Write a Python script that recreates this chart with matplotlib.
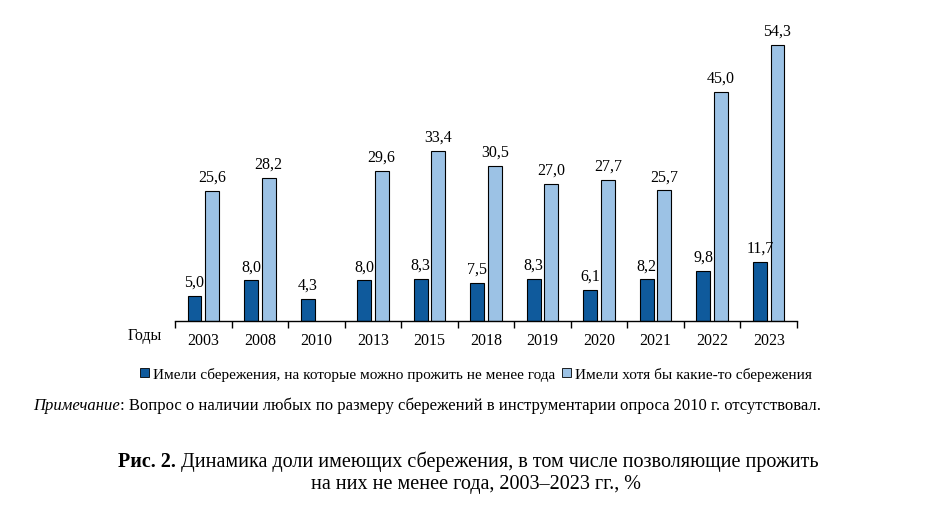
import matplotlib
matplotlib.use("Agg")
import matplotlib.pyplot as plt
from matplotlib.patches import Patch
import numpy as np

plt.rcParams["font.family"] = ["Liberation Serif", "DejaVu Serif"]

years = ["2003", "2008", "2010", "2013", "2015", "2018", "2019", "2020", "2021", "2022", "2023"]
year_savings = [5.0, 8.0, 4.3, 8.0, 8.3, 7.5, 8.3, 6.1, 8.2, 9.8, 11.7]
any_savings = [25.6, 28.2, None, 29.6, 33.4, 30.5, 27.0, 27.7, 25.7, 45.0, 54.3]

label_year = "Имели сбережения, на которые можно прожить не менее года"
label_any = "Имели хотя бы какие-то сбережения"

dark = "#0f5a9c"
light = "#9cc2e5"

fig = plt.figure(figsize=(9.28, 5.06), dpi=100)
ax = fig.add_axes([175 / 928, (506 - 322) / 506, 622 / 928, 302 / 506])

x = np.arange(len(years))
w = 0.245
off = 0.155

def fmt(v):
    return f"{v:.1f}".replace(".", ",")

for i, v in enumerate(year_savings):
    ax.bar(x[i] - off, v, w, color=dark, edgecolor="black", linewidth=0.8)
    ax.text(x[i] - off, v + 1.2, fmt(v), ha="center", va="bottom", fontsize=11.5)
for i, v in enumerate(any_savings):
    if v is None:
        continue
    ax.bar(x[i] + off, v, w, color=light, edgecolor="black", linewidth=0.8)
    ax.text(x[i] + off, v + 1.2, fmt(v), ha="center", va="bottom", fontsize=11.5)

ax.set_xlim(-0.5, len(years) - 0.5)
ax.set_ylim(0, 59.4)
ax.set_yticks([])
for s in ["top", "right", "left"]:
    ax.spines[s].set_visible(False)
ax.spines["bottom"].set_linewidth(1.0)

ax.set_xticks(x)
ax.set_xticklabels(years, fontsize=11.5)
ax.tick_params(axis="x", which="major", length=0, pad=8)
ax.set_xticks(np.arange(len(years) + 1) - 0.5, minor=True)
ax.tick_params(axis="x", which="minor", length=5, width=1.0, direction="out")

fig.text(128 / 928, 1 - 336 / 506, "Годы", fontsize=11.5, va="center")

handles = [Patch(facecolor=dark, edgecolor="black", linewidth=0.6),
           Patch(facecolor=light, edgecolor="black", linewidth=0.6)]
fig.legend(handles, [label_year, label_any], loc="center", bbox_to_anchor=(476 / 928, 1 - 375 / 506),
           ncol=2, frameon=False, fontsize=11, handlelength=0.6, handleheight=0.6,
           handletextpad=0.3, columnspacing=0.4)

# note: italic prefix followed by plain text
n1 = fig.text(33 / 928, 1 - 406 / 506, "Примечание", fontsize=12, style="italic", va="center")
n2 = fig.text(0, 1 - 406 / 506,
              ": Вопрос о наличии любых по размеру сбережений в инструментарии опроса 2010 г. отсутствовал.",
              fontsize=12, va="center")

# title with bold prefix
t1 = fig.text(0, 1 - 462 / 506, "Рис. 2.", fontsize=14.5, weight="bold", va="center")
t2 = fig.text(0, 1 - 462 / 506, " Динамика доли имеющих сбережения, в том числе позволяющие прожить",
              fontsize=14.5, va="center")
fig.text(476 / 928, 1 - 485 / 506, "на них не менее года, 2003–2023 гг., %", fontsize=14.5,
         ha="center", va="center")

fig.canvas.draw()
r = fig.canvas.get_renderer()
n2.set_x((33 + n1.get_window_extent(r).width) / 928)
w1 = t1.get_window_extent(r).width
w2 = t2.get_window_extent(r).width
x0 = 468 - (w1 + w2) / 2
t1.set_x(x0 / 928)
t2.set_x((x0 + w1) / 928)

fig.savefig("out.png", dpi=100)
